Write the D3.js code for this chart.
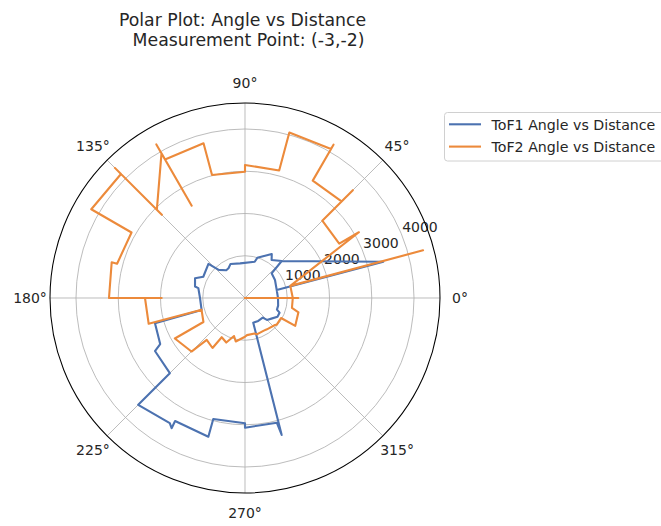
<!DOCTYPE html>
<html>
<head>
<meta charset="utf-8">
<script src="https://cdn.jsdelivr.net/npm/d3@7"></script>
<style>
  html, body { margin: 0; padding: 0; background: #fff; }
  svg { display: block; font-family: "DejaVu Sans", sans-serif; }
</style>
</head>
<body>
<svg id="chart" width="661" height="526"></svg>
<script>
// ---- data (angle in degrees, distance) ----
const angleTicks = [0, 45, 90, 135, 180, 225, 270, 315];
const radialTicks = [1000, 2000, 3000, 4000];
const radialTickLabels = ["1000", "2000", "3000", "4000"];

const tof1Angles = [14, 31, 42.8, 45.2, 55, 58.7, 73, 75, 98, 113, 119, 124, 133, 137, 153, 158.5, 167, 168, 180,
  195.5, 195.7, 208.5, 210.5, 225, 225, 239, 240.6, 240.4, 255.2, 255.3, 270, 270, 284.3, 285, 288.5,
  300, 312, 315, 322, 330, 337, 340, 347, 0, 14, 14.7, 45.2];
const tof1Dist = [774, 828, 859, 1233, 1098, 1219, 994, 888, 828, 876, 805, 793, 911, 1183, 1108, 1271, 1214, 1129, 1065,
  1065, 2213, 2284, 2473, 2516, 3574, 3456, 3538, 3349, 3396, 2959, 2966, 3070, 3046, 3356, 615,
  627, 627, 734, 793, 888, 888, 805, 805, 781, 774, 3385, 1233];

const tof2Angles = [0, 0, 0, 15, 15, 15, 30, 30, 45, 45, 45, 60, 60, 60, 75, 75, 90, 90, 105, 105, 120, 120, 120, 120,
  135, 135, 135, 135, 150, 150, 165, 165, 180, 180, 180, 195, 195, 210, 210, 225, 227.6, 237, 239.3, 247.2, 253.9, 258,
  270, 273, 285, 288, 300, 305, 318, 320, 331, 331, 345, 348, 0];
const tof2Dist = [0, 1262, 1131, 1110, 4362, 1110, 3112, 2575, 2587, 3609, 3231, 3207, 4189, 4071, 4054, 3124, 3148, 2989, 3015, 3792, 3787, 4196, 2523, 3953,
  2951, 2783, 4355, 4151, 4201, 3101, 3134, 3266, 3219, 1972, 2367, 2360, 1065, 1136, 1917, 1792, 1344, 1411, 1079, 1143, 937, 1053,
  916, 880, 870, 905, 892, 905, 955, 980, 975, 1360, 1309, 1136, 1131];

const seriesNames = ["ToF1 Angle vs Distance", "ToF2 Angle vs Distance"];
const seriesColors = ["#4c72b0", "#ec8a3b"];
const titleLines = ["Polar Plot: Angle vs Distance", " Measurement Point: (-3,-2)"];
const rMax = 4615;

// ---- layout ----
const svg = d3.select("#chart");
const cx = 245, cy = 298, R = 195;
const r = d3.scaleLinear().domain([0, rMax]).range([0, R]);
const toRad = d => d * Math.PI / 180;
const g = svg.append("g").attr("transform", `translate(${cx},${cy})`);

// grid circles
g.selectAll("circle.grid").data(radialTicks).join("circle")
  .attr("r", d => r(d)).attr("fill", "none")
  .attr("stroke", "#b0b0b0").attr("stroke-width", 0.85);

// spokes
g.selectAll("line.spoke").data(angleTicks).join("line")
  .attr("x1", 0).attr("y1", 0)
  .attr("x2", d => R * Math.cos(toRad(d)))
  .attr("y2", d => -R * Math.sin(toRad(d)))
  .attr("stroke", "#b0b0b0").attr("stroke-width", 0.85);

// radial tick labels at 22.5 deg
const labAng = toRad(22.5);
g.selectAll("text.rtick").data(radialTicks).join("text")
  .attr("x", d => r(d) * Math.cos(labAng) + 1)
  .attr("y", d => -r(d) * Math.sin(labAng) - 1.5)
  .attr("font-size", "14px").attr("fill", "#262626")
  .text((d, i) => radialTickLabels[i]);

// angle labels
g.selectAll("text.atick").data(angleTicks).join("text")
  .attr("x", d => (R + 20) * Math.cos(toRad(d)))
  .attr("y", d => -(R + 20) * Math.sin(toRad(d)))
  .attr("dy", "0.36em")
  .attr("text-anchor", "middle")
  .attr("font-size", "14px").attr("fill", "#262626")
  .text(d => d + "°");

// series lines
const line = d3.lineRadial()
  .angle(d => Math.PI / 2 - toRad(d[0]))
  .radius(d => r(d[1]));

const s1 = tof1Angles.map((a, i) => [a, tof1Dist[i]]);
const s2 = tof2Angles.map((a, i) => [a, tof2Dist[i]]);

[s1, s2].forEach((s, i) => {
  g.append("path").attr("d", line(s))
    .attr("fill", "none").attr("stroke", seriesColors[i])
    .attr("stroke-width", 2.1).attr("stroke-linejoin", "round").attr("stroke-linecap", "square");
});

// outer spine
g.append("circle").attr("r", R).attr("fill", "none")
  .attr("stroke", "#000").attr("stroke-width", 1.05);

// title
svg.append("text").attr("x", 242.5).attr("y", 26).attr("text-anchor", "middle")
  .attr("font-size", "17.3px").attr("fill", "#262626").text(titleLines[0].trim());
svg.append("text").attr("x", 248.5).attr("y", 46).attr("text-anchor", "middle")
  .attr("font-size", "17.3px").attr("fill", "#262626").text(titleLines[1].trim());

// legend
const lg = svg.append("g");
lg.append("rect").attr("x", 444.5).attr("y", 112.5).attr("width", 240).attr("height", 48.5)
  .attr("rx", 3).attr("fill", "#fff").attr("fill-opacity", 0.8)
  .attr("stroke", "#d0d0d0").attr("stroke-width", 1);
seriesNames.forEach((n, i) => {
  const y = 124.3 + i * 22.3;
  lg.append("line").attr("x1", 449).attr("x2", 481).attr("y1", y).attr("y2", y)
    .attr("stroke", seriesColors[i]).attr("stroke-width", 2.1);
  lg.append("text").attr("x", 491.5).attr("y", y + 5.6)
    .attr("font-size", "14.2px").attr("fill", "#262626").text(n);
});
</script>
</body>
</html>
